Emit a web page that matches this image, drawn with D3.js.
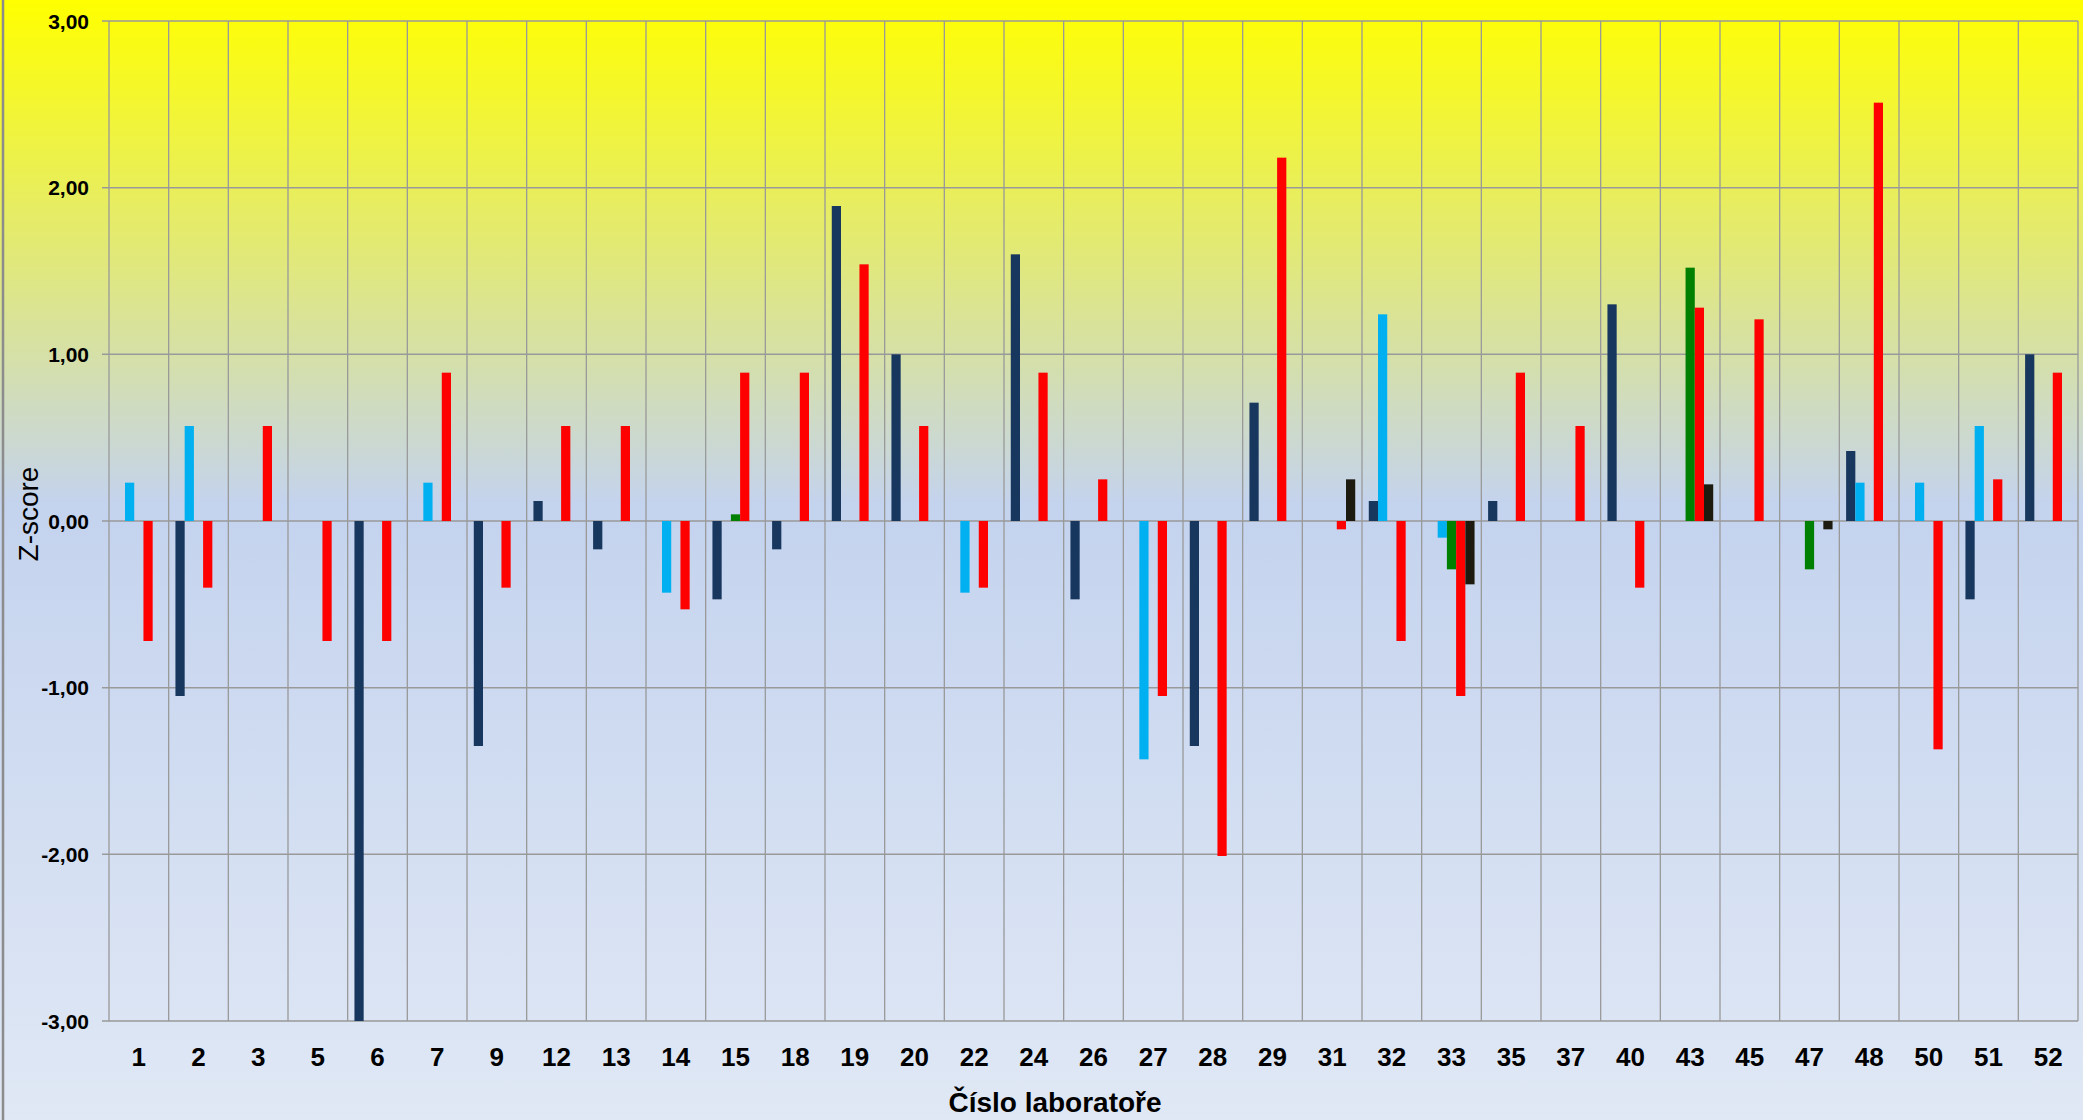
<!DOCTYPE html>
<html>
<head>
<meta charset="utf-8">
<script src="https://cdn.jsdelivr.net/npm/d3@7"></script>
<style>
  html, body { margin: 0; padding: 0; background: #fff; }
  svg { display: block; font-family: "Liberation Sans", Arial, sans-serif; }
</style>
</head>
<body>
<div id="chart"></div>
<script>
// Chart data
const labs = ["1","2","3","5","6","7","9","12","13","14","15","18","19","20","22","24","26","27","28","29","31","32","33","35","37","40","43","45","47","48","50","51","52"];
const navy = [null,-1.05,null,null,-3.0,null,-1.35,0.12,-0.17,null,-0.47,-0.17,1.89,1.0,null,1.6,-0.47,null,-1.35,0.71,null,0.12,null,0.12,null,1.3,null,null,null,0.42,null,-0.47,1.0];
const lightBlue = [0.23,0.57,null,null,null,0.23,null,null,null,-0.43,null,null,null,null,-0.43,null,null,-1.43,null,null,null,1.24,-0.1,null,null,null,null,null,null,0.23,0.23,0.57,null];
const green = [null,null,null,null,null,null,null,null,null,null,0.04,null,null,null,null,null,null,null,null,null,null,null,-0.29,null,null,null,1.52,null,-0.29,null,null,null,null];
const red = [-0.72,-0.40,0.57,-0.72,-0.72,0.89,-0.40,0.57,0.57,-0.53,0.89,0.89,1.54,0.57,-0.40,0.89,0.25,-1.05,-2.01,2.18,-0.05,-0.72,-1.05,0.89,0.57,-0.40,1.28,1.21,null,2.51,-1.37,0.25,0.89];
const black = [null,null,null,null,null,null,null,null,null,null,null,null,null,null,null,null,null,null,null,null,0.25,null,-0.38,null,null,null,0.22,null,-0.05,null,null,null,null];
const yTicks = [-3, -2, -1, 0, 1, 2, 3];

const series = [
  { key: "navy", values: navy, color: "#17375e" },
  { key: "lightBlue", values: lightBlue, color: "#00b0f0" },
  { key: "green", values: green, color: "#008000" },
  { key: "red", values: red, color: "#ff0000" },
  { key: "black", values: black, color: "#1d1b10" }
];

const WIDTH = 2083;
const HEIGHT = 1120;
const margin = { top: 21, right: 5, bottom: 99, left: 109 };

const svg = d3.select("#chart")
  .append("svg")
  .attr("width", WIDTH)
  .attr("height", HEIGHT);

// background gradient
const grad = svg.append("defs").append("linearGradient")
  .attr("id", "bg")
  .attr("x1", 0).attr("y1", 0).attr("x2", 0).attr("y2", 1);
grad.append("stop").attr("offset", "0%").attr("stop-color", "#ffff00");
grad.append("stop").attr("offset", "45%").attr("stop-color", "#c4d3ee");
grad.append("stop").attr("offset", "100%").attr("stop-color", "#e0e8f5");

svg.append("rect")
  .attr("width", WIDTH)
  .attr("height", HEIGHT)
  .attr("fill", "url(#bg)");

// outer border
svg.append("line")
  .attr("x1", 3).attr("x2", 3).attr("y1", 0).attr("y2", HEIGHT)
  .attr("stroke", "#8c8c8c").attr("stroke-width", 2.5);

const x0 = d3.scaleBand()
  .domain(labs)
  .range([margin.left, WIDTH - margin.right])
  .padding(0);

const x1 = d3.scaleBand()
  .domain(series.map(s => s.key))
  .range([0, x0.bandwidth()])
  .paddingInner(0)
  .paddingOuter(0.735);

const y = d3.scaleLinear()
  .domain([-3, 3])
  .range([HEIGHT - margin.bottom, margin.top]);

// horizontal grid lines
svg.append("g")
  .selectAll("line")
  .data(yTicks)
  .join("line")
  .attr("x1", margin.left - 7)
  .attr("x2", WIDTH - margin.right)
  .attr("y1", d => y(d))
  .attr("y2", d => y(d))
  .attr("stroke", "#999")
  .attr("stroke-width", 1.5);

// vertical grid lines at category boundaries
const bounds = labs.map(d => x0(d)).concat([x0.range()[1]]);
svg.append("g")
  .selectAll("line")
  .data(bounds)
  .join("line")
  .attr("x1", d => d)
  .attr("x2", d => d)
  .attr("y1", y(3))
  .attr("y2", y(-3))
  .attr("stroke", "#999")
  .attr("stroke-width", 1.3);

// bars
const groups = svg.append("g")
  .selectAll("g")
  .data(series)
  .join("g")
  .attr("fill", s => s.color);

groups.selectAll("rect")
  .data(s => s.values.map((v, i) => ({ key: s.key, lab: labs[i], v })).filter(d => d.v !== null))
  .join("rect")
  .attr("x", d => x0(d.lab) + x1(d.key))
  .attr("width", x1.bandwidth())
  .attr("y", d => y(Math.max(0, d.v)))
  .attr("height", d => Math.abs(y(d.v) - y(0)));

// y tick labels
const fmt = d => d3.format(".2f")(d).replace(".", ",").replace("−", "-");
svg.append("g")
  .selectAll("text")
  .data(yTicks)
  .join("text")
  .attr("x", 89)
  .attr("y", d => y(d))
  .attr("dy", "0.36em")
  .attr("text-anchor", "end")
  .style("font-size", "21px")
  .style("font-weight", "bold")
  .text(fmt);

// x tick labels
svg.append("g")
  .selectAll("text")
  .data(labs)
  .join("text")
  .attr("x", d => x0(d) + x0.bandwidth() / 2)
  .attr("y", 1066)
  .attr("text-anchor", "middle")
  .style("font-size", "26px")
  .style("font-weight", "bold")
  .text(d => d);

// axis titles
svg.append("text")
  .attr("x", 1055)
  .attr("y", 1112)
  .attr("text-anchor", "middle")
  .style("font-size", "28px")
  .style("font-weight", "bold")
  .text("Číslo laboratoře");

svg.append("text")
  .attr("transform", "translate(38,514) rotate(-90)")
  .attr("text-anchor", "middle")
  .style("font-size", "28px")
  .text("Z-score");
</script>
</body>
</html>
